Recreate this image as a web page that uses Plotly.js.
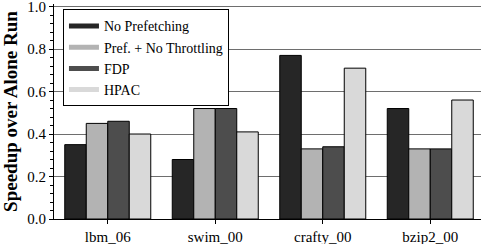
<!DOCTYPE html>
<html>
<head>
<meta charset="utf-8">
<script src="https://cdn.plot.ly/plotly-3.0.1.min.js"></script>
<style>html,body{margin:0;padding:0;background:#fff;}#chart{width:481px;height:244px;}</style>
</head>
<body>
<div id="chart"></div>
<script>
const categories = ["lbm_06", "swim_00", "crafty_00", "bzip2_00"];
const seriesNames = ["No Prefetching", "Pref. + No Throttling", "FDP", "HPAC"];
const noPrefetching = [0.35, 0.28, 0.77, 0.52];
const prefNoThrottling = [0.45, 0.52, 0.33, 0.33];
const fdp = [0.46, 0.52, 0.34, 0.33];
const hpac = [0.40, 0.41, 0.71, 0.56];
const yTickStep = 0.2;
const yMinorStep = 0.04;

const colors = ["#262626", "#b3b3b3", "#4d4d4d", "#d9d9d9"];
const seriesValues = [noPrefetching, prefNoThrottling, fdp, hpac];
const font = "Times New Roman, Liberation Serif, serif";

const traces = [];
seriesValues.forEach((vals, i) => {
  traces.push({
    type: "bar", x: categories, y: vals, name: seriesNames[i],
    marker: {color: colors[i], line: {color: "#000", width: 1}},
    showlegend: false, hoverinfo: "skip"
  });
});
seriesValues.forEach((vals, i) => {
  traces.push({
    type: "scatter", mode: "lines", x: [null], y: [null], name: seriesNames[i],
    line: {color: colors[i], width: 5}, showlegend: true
  });
});

const layout = {
  width: 481, height: 244,
  margin: {l: 54, r: 0, t: 4, b: 25},
  paper_bgcolor: "#fff", plot_bgcolor: "#fff",
  font: {family: font, size: 14, color: "#000"},
  barmode: "group", bargap: 0.2, bargroupgap: 0,
  xaxis: {
    type: "category", range: [-0.5, 3.472],
    showline: true, linecolor: "#000", linewidth: 1,
    ticks: "outside", ticklen: 4, tickcolor: "#000",
    showgrid: false, zeroline: false,
    tickfont: {family: font, size: 15}
  },
  yaxis: {
    range: [0, 1.012], autorange: false,
    tickmode: "linear", tick0: 0, dtick: yTickStep, tickformat: ".1f",
    ticklabeloverflow: "allow",
    showline: true, linecolor: "#000", linewidth: 1,
    ticks: "outside", ticklen: 4, tickcolor: "#000",
    minor: {tickmode: "linear", tick0: 0, dtick: yMinorStep, ticks: "outside", ticklen: 3, tickcolor: "#000", showgrid: false},
    showgrid: true, gridcolor: "#6e6e6e", gridwidth: 1,
    zeroline: false,
    tickfont: {family: font, size: 15},
    title: {text: "<b>Speedup over Alone Run</b>", font: {family: font, size: 19}, standoff: 4}
  },
  legend: {
    x: 0.021, y: 0.975, xanchor: "left", yanchor: "top",
    bgcolor: "#fff", bordercolor: "#000", borderwidth: 1,
    font: {family: font, size: 14}, tracegroupgap: 0,
    itemwidth: 30
  }
};

Plotly.newPlot("chart", traces, layout, {displayModeBar: false, staticPlot: true});
</script>
</body>
</html>
